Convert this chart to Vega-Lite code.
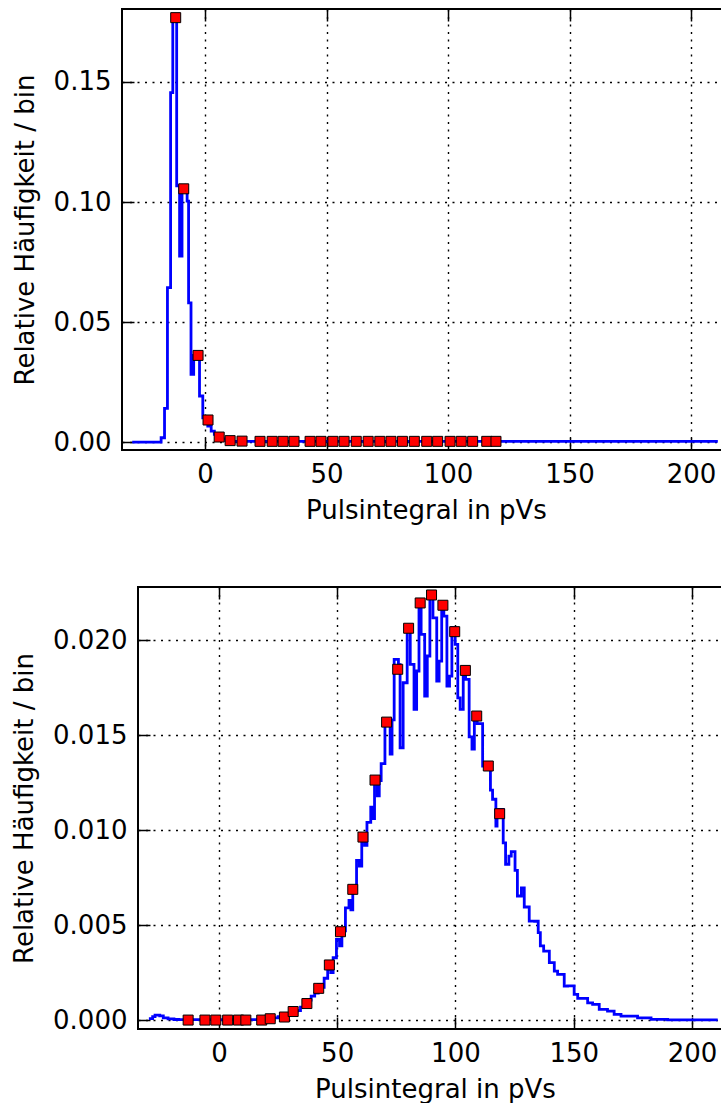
{
  "$schema": "https://vega.github.io/schema/vega-lite/v6.json",
  "padding": {"left": 10, "top": 7, "right": 0, "bottom": 0},
  "autosize": {"type": "pad"},
  "spacing": 137,
  "bounds": "flush",
  "center": true,
  "config": {
    "view": {"stroke": "black", "strokeWidth": 2},
    "font": "DejaVu Sans",
    "axis": {
      "labelFont": "DejaVu Sans", "labelFontSize": 26, "labelColor": "black",
      "titleFont": "DejaVu Sans", "titleFontSize": 26, "titleFontWeight": "normal", "titleColor": "black",
      "domain": false, "grid": true, "gridColor": "black", "gridDash": [2, 5.5], "gridWidth": 1.4, "gridOpacity": 1,
      "tickColor": "black", "tickSize": -12, "tickWidth": 1.5, "labelPadding": 23, "zindex": 1
    },
    "axisX": {"titlePadding": 10},
    "axisY": {"titlePadding": 15}
  },
  "datasets": {
    "topLine": [
      {"x": -30, "y": 0}, {"x": -18.1, "y": 0.0018}, {"x": -16.7, "y": 0.014}, {"x": -15.5, "y": 0.0643},
      {"x": -14.2, "y": 0.1456}, {"x": -13.3, "y": 0.1768}, {"x": -11.7, "y": 0.1067}, {"x": -10.5, "y": 0.0775},
      {"x": -9.5, "y": 0.1055}, {"x": -7.4, "y": 0.1004}, {"x": -6.8, "y": 0.058}, {"x": -5.8, "y": 0.0282},
      {"x": -4.7, "y": 0.0361}, {"x": -2.3, "y": 0.0192}, {"x": -0.95, "y": 0.0101}, {"x": 1.1, "y": 0.0067},
      {"x": 2.5, "y": 0.0046}, {"x": 3.8, "y": 0.0032}, {"x": 4.9, "y": 0.0021}, {"x": 6.6, "y": 0.0013},
      {"x": 8.6, "y": 0.0005}, {"x": 10.7, "y": 0.0003}, {"x": 211, "y": 0.0003}
    ],
    "topPts": [
      {"x": -12.1, "y": 0.1768}, {"x": -8.8, "y": 0.1055}, {"x": -2.9, "y": 0.0361}, {"x": 1.2, "y": 0.0092},
      {"x": 5.8, "y": 0.0021}, {"x": 10.3, "y": 0.0006}, {"x": 15.2, "y": 0.0004}, {"x": 22.6, "y": 0.0003},
      {"x": 27.6, "y": 0.0003}, {"x": 32.1, "y": 0.0003}, {"x": 36.6, "y": 0.0003}, {"x": 43.2, "y": 0.0003},
      {"x": 47.7, "y": 0.0003}, {"x": 52.6, "y": 0.0003}, {"x": 57.2, "y": 0.0003}, {"x": 62.2, "y": 0.0003},
      {"x": 67.1, "y": 0.0003}, {"x": 71.9, "y": 0.0003}, {"x": 76.5, "y": 0.0003}, {"x": 81.2, "y": 0.0003},
      {"x": 86.1, "y": 0.0003}, {"x": 91.2, "y": 0.0003}, {"x": 95.7, "y": 0.0003}, {"x": 100.8, "y": 0.0003},
      {"x": 105.4, "y": 0.0003}, {"x": 110.1, "y": 0.0003}, {"x": 115.9, "y": 0.0003}, {"x": 119.7, "y": 0.0003}
    ],
    "botLine": [
      {"x": -29.6, "y": 0.00008}, {"x": -28, "y": 0.00018}, {"x": -27, "y": 0.00026}, {"x": -25, "y": 0.00022},
      {"x": -23.5, "y": 0.00012}, {"x": -21.5, "y": 0.00006}, {"x": -19, "y": 0.00003}, {"x": -17, "y": 0.00002},
      {"x": 19, "y": 0.00004}, {"x": 21, "y": 0.00008}, {"x": 23, "y": 0.00012}, {"x": 25, "y": 0.00018},
      {"x": 27, "y": 0.00026}, {"x": 29, "y": 0.00032}, {"x": 31, "y": 0.00042}, {"x": 33, "y": 0.0005},
      {"x": 34.5, "y": 0.00068}, {"x": 36, "y": 0.00085}, {"x": 37.5, "y": 0.00105}, {"x": 39, "y": 0.00126},
      {"x": 40.5, "y": 0.00142}, {"x": 42, "y": 0.00188}, {"x": 43.5, "y": 0.00172}, {"x": 44.5, "y": 0.0022},
      {"x": 46, "y": 0.00267}, {"x": 47.3, "y": 0.0025}, {"x": 48.3, "y": 0.00328}, {"x": 49.7, "y": 0.00425},
      {"x": 51, "y": 0.0039}, {"x": 52, "y": 0.0047}, {"x": 53.5, "y": 0.0059}, {"x": 55, "y": 0.0063},
      {"x": 55.8, "y": 0.0058}, {"x": 56.6, "y": 0.0069}, {"x": 58.2, "y": 0.0084}, {"x": 59.4, "y": 0.0081},
      {"x": 60.4, "y": 0.0097}, {"x": 61.6, "y": 0.0092}, {"x": 62.6, "y": 0.0104}, {"x": 64.2, "y": 0.0112},
      {"x": 65.2, "y": 0.0106}, {"x": 65.8, "y": 0.0127}, {"x": 67, "y": 0.0118}, {"x": 67.8, "y": 0.0126},
      {"x": 68.6, "y": 0.01349}, {"x": 70.2, "y": 0.01565}, {"x": 71.6, "y": 0.0157}, {"x": 72.4, "y": 0.014},
      {"x": 73.2, "y": 0.0158}, {"x": 74.1, "y": 0.01898}, {"x": 75.9, "y": 0.0187}, {"x": 76.6, "y": 0.01433},
      {"x": 77.9, "y": 0.01775}, {"x": 79.6, "y": 0.0206}, {"x": 80.9, "y": 0.01872}, {"x": 82.5, "y": 0.01635},
      {"x": 83.6, "y": 0.01837}, {"x": 84.6, "y": 0.02195}, {"x": 85.5, "y": 0.0203}, {"x": 87, "y": 0.01705},
      {"x": 88.1, "y": 0.01916}, {"x": 89.2, "y": 0.02237}, {"x": 90.5, "y": 0.02117}, {"x": 92.1, "y": 0.01784},
      {"x": 93.1, "y": 0.01889}, {"x": 94.2, "y": 0.0218}, {"x": 95.1, "y": 0.02126}, {"x": 96.4, "y": 0.01758},
      {"x": 97.5, "y": 0.0181}, {"x": 98.5, "y": 0.02065}, {"x": 99.9, "y": 0.01977}, {"x": 101, "y": 0.01696},
      {"x": 102, "y": 0.01635}, {"x": 103.3, "y": 0.0184}, {"x": 104.3, "y": 0.01793}, {"x": 105.8, "y": 0.0149},
      {"x": 107, "y": 0.01426}, {"x": 108, "y": 0.016}, {"x": 109.2, "y": 0.0156}, {"x": 111.5, "y": 0.01337},
      {"x": 114.8, "y": 0.0121}, {"x": 115.7, "y": 0.01162}, {"x": 117.1, "y": 0.01021}, {"x": 117.6, "y": 0.01109},
      {"x": 120.2, "y": 0.00933}, {"x": 121.2, "y": 0.0082}, {"x": 122.6, "y": 0.00863}, {"x": 123.6, "y": 0.00886},
      {"x": 125.2, "y": 0.00788}, {"x": 126.2, "y": 0.00653}, {"x": 127.9, "y": 0.00696}, {"x": 129.1, "y": 0.00595},
      {"x": 131.2, "y": 0.00521}, {"x": 133.5, "y": 0.0052}, {"x": 135, "y": 0.0046}, {"x": 135.9, "y": 0.0039},
      {"x": 137.3, "y": 0.00363}, {"x": 139.7, "y": 0.00302}, {"x": 141.8, "y": 0.00258}, {"x": 143.2, "y": 0.0024},
      {"x": 146, "y": 0.00179}, {"x": 147.4, "y": 0.0018}, {"x": 150.2, "y": 0.00135}, {"x": 151.7, "y": 0.00114},
      {"x": 155.9, "y": 0.00091}, {"x": 158, "y": 0.00083}, {"x": 160.8, "y": 0.00056}, {"x": 164.3, "y": 0.00047},
      {"x": 167.1, "y": 0.0003}, {"x": 170, "y": 0.00021}, {"x": 177, "y": 0.00012}, {"x": 182.7, "y": 0.00004},
      {"x": 189.7, "y": 0.00001}, {"x": 210.9, "y": 0.00001}
    ],
    "botPts": [
      {"x": -13, "y": 0}, {"x": -5.9, "y": 0}, {"x": -1.3, "y": 0}, {"x": 3.7, "y": 0}, {"x": 8.3, "y": 0},
      {"x": 11.4, "y": 0}, {"x": 18.1, "y": 0}, {"x": 21.7, "y": 0.00007}, {"x": 27.7, "y": 0.00016},
      {"x": 31.4, "y": 0.00045}, {"x": 37.2, "y": 0.00087}, {"x": 42.2, "y": 0.00167}, {"x": 46.7, "y": 0.0029},
      {"x": 51.4, "y": 0.00465}, {"x": 56.6, "y": 0.00688}, {"x": 60.9, "y": 0.00963}, {"x": 66, "y": 0.01263},
      {"x": 70.9, "y": 0.01568}, {"x": 75.6, "y": 0.01846}, {"x": 80.2, "y": 0.02062}, {"x": 85.1, "y": 0.02195},
      {"x": 89.9, "y": 0.02237}, {"x": 94.7, "y": 0.02183}, {"x": 99.7, "y": 0.02044}, {"x": 104.2, "y": 0.0184},
      {"x": 109, "y": 0.016}, {"x": 113.9, "y": 0.01337}, {"x": 118.7, "y": 0.01086}
    ]
  },
  "vconcat": [
    {
      "width": 616, "height": 441,
      "resolve": {"axis": {"x": "independent"}},
      "layer": [
        {
          "data": {"name": "topLine"},
          "mark": {"type": "line", "interpolate": "step-after", "color": "#0000ff", "strokeWidth": 2.8, "clip": true},
          "encoding": {
            "x": {"field": "x", "type": "quantitative", "scale": {"domain": [-34.2, 219.3], "nice": false, "zero": false},
                  "axis": {"values": [0, 50, 100, 150, 200], "title": "Pulsintegral in pVs", "titleX": 304}},
            "y": {"field": "y", "type": "quantitative", "scale": {"domain": [-0.0033, 0.1804], "nice": false, "zero": false},
                  "axis": {"values": [0, 0.05, 0.1, 0.15], "format": ".2f", "title": "Relative Häufigkeit / bin"}}
          }
        },
        {
          "data": {"name": "topPts"},
          "mark": {"type": "point", "shape": "square", "filled": true, "size": 100, "fill": "#ff0000", "stroke": "black", "strokeWidth": 1, "opacity": 1, "clip": true},
          "encoding": {
            "x": {"field": "x", "type": "quantitative", "scale": {"domain": [-34.2, 219.3], "nice": false, "zero": false},
                  "axis": {"orient": "top", "values": [0, 50, 100, 150, 200], "labels": false, "grid": false, "title": null}},
            "y": {"field": "y", "type": "quantitative"}
          }
        }
      ]
    },
    {
      "width": 584, "height": 442,
      "resolve": {"axis": {"x": "independent"}},
      "layer": [
        {
          "data": {"name": "botLine"},
          "mark": {"type": "line", "interpolate": "step-after", "color": "#0000ff", "strokeWidth": 2.8, "clip": true},
          "encoding": {
            "x": {"field": "x", "type": "quantitative", "scale": {"domain": [-34.2, 212.7], "nice": false, "zero": false},
                  "axis": {"values": [0, 50, 100, 150, 200], "title": "Pulsintegral in pVs", "titleX": 297}},
            "y": {"field": "y", "type": "quantitative", "scale": {"domain": [-0.00047, 0.02279], "nice": false, "zero": false},
                  "axis": {"values": [0, 0.005, 0.01, 0.015, 0.02], "format": ".3f", "title": "Relative Häufigkeit / bin"}}
          }
        },
        {
          "data": {"name": "botPts"},
          "mark": {"type": "point", "shape": "square", "filled": true, "size": 100, "fill": "#ff0000", "stroke": "black", "strokeWidth": 1, "opacity": 1, "clip": true},
          "encoding": {
            "x": {"field": "x", "type": "quantitative", "scale": {"domain": [-34.2, 212.7], "nice": false, "zero": false},
                  "axis": {"orient": "top", "values": [0, 50, 100, 150, 200], "labels": false, "grid": false, "title": null}},
            "y": {"field": "y", "type": "quantitative"}
          }
        }
      ]
    }
  ]
}
